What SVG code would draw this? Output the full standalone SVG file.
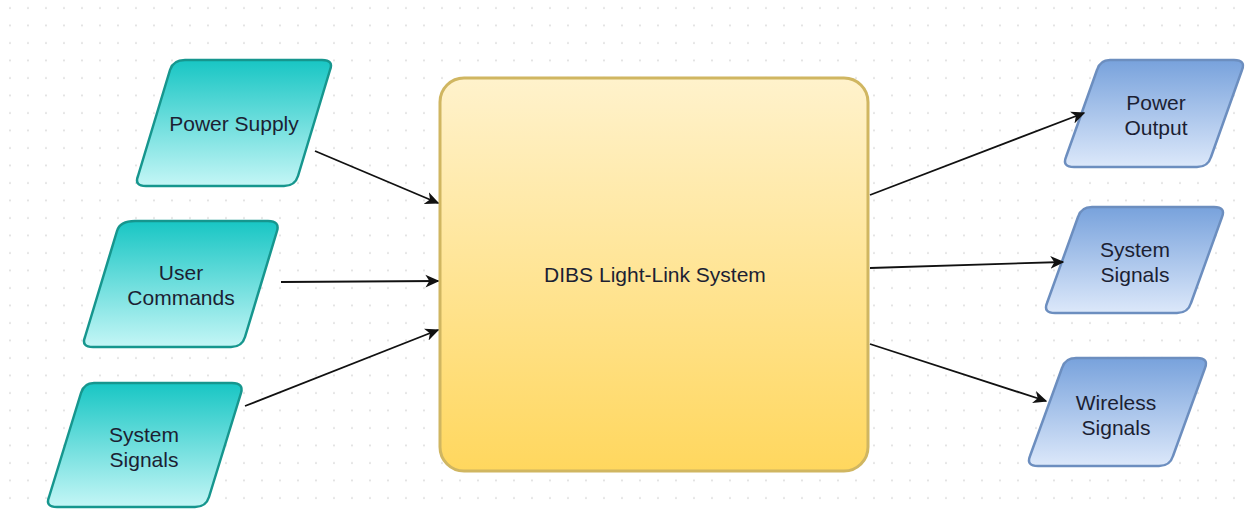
<svg xmlns="http://www.w3.org/2000/svg" width="1250" height="514" viewBox="0 0 1250 514">
  <defs>
    <pattern id="grid" width="18" height="17.5" patternUnits="userSpaceOnUse" x="1" y="0">
      <circle cx="9" cy="8" r="0.9" fill="#d8d8d8"/>
    </pattern>
    <linearGradient id="tealFill" x1="0" y1="0" x2="0" y2="1">
      <stop offset="0" stop-color="#18c6c4"/>
      <stop offset="1" stop-color="#c4f6f6"/>
    </linearGradient>
    <linearGradient id="blueFill" x1="0" y1="0" x2="0" y2="1">
      <stop offset="0" stop-color="#78a2dc"/>
      <stop offset="1" stop-color="#dce8fa"/>
    </linearGradient>
    <linearGradient id="yellowFill" x1="0" y1="0" x2="0" y2="1">
      <stop offset="0" stop-color="#fff2cc"/>
      <stop offset="1" stop-color="#ffd75e"/>
    </linearGradient>
    <marker id="arrow" viewBox="0 0 10 10" refX="9" refY="5" markerWidth="14" markerHeight="14" markerUnits="userSpaceOnUse" orient="auto">
      <path d="M0,0.5 L10,5 L0,9.5 L2.8,5 Z" fill="#111"/>
    </marker>
    <style>
      .teal { fill: url(#tealFill); stroke: #16968e; stroke-width: 2.5; stroke-linejoin: round; }
      .blue { fill: url(#blueFill); stroke: #6c8ebf; stroke-width: 2.5; stroke-linejoin: round; }
      .core { fill: url(#yellowFill); stroke: #d0b661; stroke-width: 3; }
      .label { font-family: "Liberation Sans", Arial, sans-serif; font-size: 21px; fill: #1c1f33; text-anchor: middle; }
      .edge { stroke: #111; stroke-width: 1.8; fill: none; marker-end: url(#arrow); }
    </style>
  </defs>

  <rect width="1250" height="514" fill="#ffffff"/>
  <rect width="1250" height="514" fill="url(#grid)"/>

  <!-- inputs -->
  <g id="power-supply">
    <path class="teal" d="M185,60 H322 Q334,60 330,70 L298,176 Q295,186 284,186 H146 Q134,186 138,176 L170,70 Q173,60 185,60 Z"/>
    <text class="label" x="234" y="131">Power Supply</text>
  </g>
  <g id="user-commands">
    <path class="teal" d="M135,221 H268 Q280,221 277,231 L245,337 Q242,347 231,347 H93 Q81,347 85,337 L117,231 Q120,221 135,221 Z"/>
    <text class="label" x="181" y="280">User</text>
    <text class="label" x="181" y="305">Commands</text>
  </g>
  <g id="system-signals-in">
    <path class="teal" d="M94,383 H232 Q244,383 241,393 L209,497 Q206,507 195,507 H57 Q45,507 49,497 L81,393 Q84,383 94,383 Z"/>
    <text class="label" x="144" y="442">System</text>
    <text class="label" x="144" y="467">Signals</text>
  </g>

  <!-- core system -->
  <g id="dibs-system">
    <rect class="core" x="440" y="78" width="428" height="393" rx="24" ry="24"/>
    <text class="label" x="655" y="282">DIBS Light-Link System</text>
  </g>

  <!-- outputs -->
  <g id="power-output">
    <path class="blue" d="M1110,60 H1234 Q1246,60 1242,70 L1211,157 Q1208,167 1197,167 H1074 Q1062,167 1066,157 L1097,70 Q1100,60 1110,60 Z"/>
    <text class="label" x="1156" y="110">Power</text>
    <text class="label" x="1156" y="135">Output</text>
  </g>
  <g id="system-signals-out">
    <path class="blue" d="M1092,207 H1214 Q1226,207 1222,217 L1191,303 Q1188,313 1177,313 H1055 Q1043,313 1047,303 L1078,217 Q1081,207 1092,207 Z"/>
    <text class="label" x="1135" y="257">System</text>
    <text class="label" x="1135" y="282">Signals</text>
  </g>
  <g id="wireless-signals">
    <path class="blue" d="M1076,358 H1197 Q1209,358 1205,368 L1173,456 Q1170,466 1159,466 H1038 Q1026,466 1030,456 L1062,368 Q1065,358 1076,358 Z"/>
    <text class="label" x="1116" y="410">Wireless</text>
    <text class="label" x="1116" y="435">Signals</text>
  </g>

  <!-- connectors -->
  <g id="connectors">
    <line class="edge" x1="315" y1="151" x2="438" y2="203"/>
    <line class="edge" x1="281" y1="282" x2="438" y2="281"/>
    <line class="edge" x1="245" y1="406" x2="438" y2="330"/>
    <line class="edge" x1="870" y1="195" x2="1084" y2="113"/>
    <line class="edge" x1="870" y1="268" x2="1063" y2="262"/>
    <line class="edge" x1="870" y1="344" x2="1046" y2="401"/>
  </g>
</svg>
